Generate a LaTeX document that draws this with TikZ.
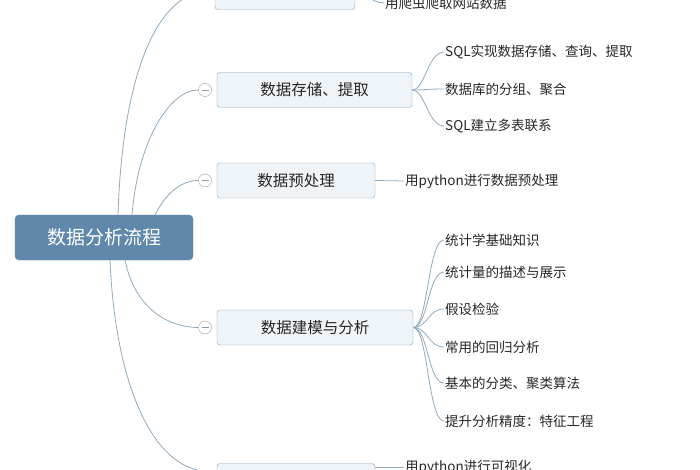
\documentclass[tikz,border=0pt]{standalone}
\usepackage{fontspec}
\newfontfamily\cjk{Noto Sans CJK SC}
\definecolor{rootc}{HTML}{5F88AA}
\definecolor{boxf}{HTML}{EEF4F8}
\definecolor{boxd}{HTML}{86A3BA}
\definecolor{linec}{HTML}{8FA9BE}
\tikzset{
 rootbox/.style={draw=rootc,fill=rootc,rounded corners=4pt,text=white,font=\cjk\fontsize{19}{19}\selectfont,minimum height=45pt,minimum width=178pt,inner sep=0pt},
 topicbox/.style={draw=boxd,fill=boxf,rounded corners=3pt,font=\cjk\fontsize{15.5}{15.5}\selectfont,minimum height=35pt,inner sep=0pt,text=black!85},
 leaf/.style={anchor=west,font=\cjk\fontsize{13.5}{13.5}\selectfont,inner sep=1pt,text=black!85},
 conn/.style={draw=linec,line width=0.8pt},
 minus/.style={circle,draw=gray!80,fill=white,minimum size=13pt,inner sep=0pt}
}
\begin{document}
\begin{tikzpicture}[x=1pt,y=-1pt]
\useasboundingbox (0,0) rectangle (700,470);
\node[rootbox] (root) at (104,237.5) {数据分析流程};
\coordinate (r1) at (118,215);\coordinate (r2) at (132,215);\coordinate (r3) at (155,215);
\coordinate (r4) at (125,260);\coordinate (r5) at (110,260);
% topics
\node[topicbox,minimum width=140pt] (t0) at (285,-8) {};
\node[topicbox,minimum width=195pt] (t1) at (314.5,90) {数据存储、提取};
\node[topicbox,minimum width=158pt] (t2) at (296,180.5) {数据预处理};
\node[topicbox,minimum width=196pt] (t3) at (315,327.5) {数据建模与分析};
\node[topicbox,minimum width=158pt] (t4) at (296,481) {};
\node[minus] (m0) at (205,-8) {};
\node[minus] (m1) at (205,90) {};
\node[minus] (m2) at (205,180.5) {};
\node[minus] (m3) at (205,327.5) {};
\draw[conn] (r1) .. controls (122,90) and (150,5) .. (m0.west);
\draw[conn] (r2) .. controls (138,140) and (170,90) .. (m1.west);
\draw[conn] (r3) .. controls (165,195) and (180,180.5) .. (m2.west);
\draw[conn] (r4) .. controls (135,310) and (170,327.5) .. (m3.west);
\coordinate (e4) at (198,470);
\draw[conn] (r5) .. controls (115,380) and (150,460) .. (e4);
\foreach \m in {m0,m1,m2,m3}{\draw[gray!80,line width=0.7pt] ([xshift=-3.5pt]\m.center) -- ([xshift=3.5pt]\m.center);}
% leaves
\node[leaf] (l0) at (384,3) {用爬虫爬取网站数据};
\node[leaf] (l11) at (444,52) {SQL实现数据存储、查询、提取};
\node[leaf] (l12) at (444,89) {数据库的分组、聚合};
\node[leaf] (l13) at (444,126) {SQL建立多表联系};
\node[leaf] (l2) at (404,181) {用python进行数据预处理};
\node[leaf] (l31) at (444,240) {统计学基础知识};
\node[leaf] (l32) at (444,272) {统计量的描述与展示};
\node[leaf] (l33) at (444,309) {假设检验};
\node[leaf] (l34) at (444,347) {常用的回归分析};
\node[leaf] (l35) at (444,383) {基本的分类、聚类算法};
\node[leaf] (l36) at (444,421) {提升分析精度：特征工程};
\node[leaf] (l4) at (404,467) {用python进行可视化};
\draw[conn] (t0.east) .. controls (368,-8) and (370,3) .. (l0.west);
\foreach \l in {l11,l12,l13}{\draw[conn] (t1.east) .. controls (425,90) and (428,0|-\l.west) .. (\l.west);}
\draw[conn] (t2.east) -- (l2.west);
\foreach \l in {l31,l32,l33,l34,l35,l36}{\draw[conn] (t3.east) .. controls (428,327.5) and (428,0|-\l.west) .. (\l.west);}
\draw[conn] (t4.east|-l4.west) -- (l4.west);
\end{tikzpicture}
\end{document}
